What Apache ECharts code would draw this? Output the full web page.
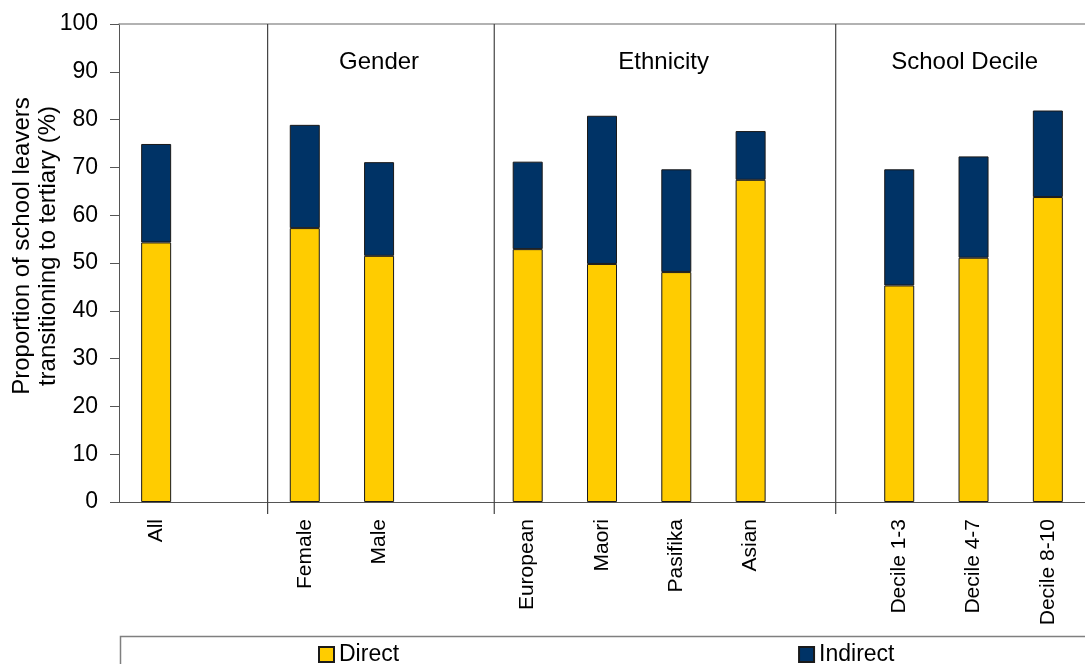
<!DOCTYPE html>
<html>
<head>
<meta charset="utf-8">
<script src="https://cdn.jsdelivr.net/npm/echarts@6/dist/echarts.min.js"></script>
<style>
  html, body { margin: 0; padding: 0; background: #fff; }
  #chart { width: 1085px; height: 664px; }
</style>
</head>
<body>
<div id="chart"></div>
<script>
// Categories, with empty slots separating the groups
const categories = ['All', '', 'Female', 'Male', '', 'European', 'Maori', 'Pasifika', 'Asian', '', 'Decile 1-3', 'Decile 4-7', 'Decile 8-10'];
// Percent of school leavers moving directly into tertiary study
const directValues = [54.3, null, 57.3, 51.5, null, 52.9, 49.8, 48.1, 67.4, null, 45.3, 51.1, 63.8];
// Percent moving into tertiary study after a delay
const indirectValues = [20.6, null, 21.6, 19.6, null, 18.3, 31.0, 21.5, 10.2, null, 24.3, 21.2, 18.1];
// Group headings and the dividers between groups, in slot units along the category axis
const groupNames = ['Gender', 'Ethnicity', 'School Decile'];
const groupCenters = [3.5, 7.33, 11.38];
const dividerPositions = [2.0, 5.05, 9.645];
const yTicks = { min: 0, max: 100, interval: 10 };

const FONT = "'Liberation Sans', Arial, sans-serif";
const chart = echarts.init(document.getElementById('chart'), null, { renderer: 'canvas' });

const option = {
  animation: false,
  textStyle: { fontFamily: FONT },
  grid: { left: 119, top: 24, width: 970, bottom: 162, containLabel: false },
  legend: {
    data: ['Direct', 'Indirect'],
    left: 318,
    top: 643,
    width: 1000,
    orient: 'horizontal',
    padding: 0,
    itemGap: 399,
    itemWidth: 15,
    itemHeight: 15,
    icon: 'rect',
    textStyle: { fontSize: 23, color: '#000', fontFamily: FONT }
  },
  xAxis: [
    {
      type: 'category',
      data: categories,
      position: 'bottom',
      axisLine: { show: true, lineStyle: { color: '#555', width: 1 } },
      axisTick: { show: false },
      axisLabel: { rotate: 90, fontSize: 21, color: '#000', margin: 17, interval: 0, fontFamily: FONT },
      splitLine: { show: false }
    },
    {
      type: 'value',
      min: 0,
      max: categories.length,
      position: 'top',
      axisLine: { show: true, onZero: false, lineStyle: { color: '#999', width: 1.5 } },
      axisTick: { show: false },
      axisLabel: { show: false },
      splitLine: { show: false }
    }
  ],
  yAxis: {
    type: 'value',
    min: yTicks.min,
    max: yTicks.max,
    interval: yTicks.interval,
    axisLine: { show: true, lineStyle: { color: '#555', width: 1 } },
    axisTick: { show: true, length: 9, lineStyle: { color: '#555' } },
    axisLabel: { fontSize: 23, color: '#000', margin: 21, fontFamily: FONT },
    splitLine: { show: false }
  },
  graphic: [
    {
      type: 'text',
      x: 35,
      y: 246,
      rotation: Math.PI / 2,
      style: {
        text: 'Proportion of school leavers\ntransitioning to tertiary (%)',
        font: '24px ' + FONT,
        fill: '#000',
        align: 'center',
        verticalAlign: 'middle',
        lineHeight: 26
      }
    },
    {
      // frame around the legend, running off the bottom-right of the page
      type: 'rect',
      left: 118,
      top: 634,
      silent: true,
      shape: { width: 1000, height: 60 },
      style: { fill: 'none', stroke: '#7f7f7f', lineWidth: 1.5 }
    }
  ],
  series: [
    {
      name: 'Direct',
      type: 'bar',
      stack: 'total',
      data: directValues,
      barWidth: 30,
      itemStyle: { color: '#FFCC00', borderColor: '#1a1a1a', borderWidth: 1 }
    },
    {
      name: 'Indirect',
      type: 'bar',
      stack: 'total',
      data: indirectValues,
      barWidth: 30,
      itemStyle: { color: '#003366', borderColor: '#1a1a1a', borderWidth: 1 }
    },
    {
      // vertical dividers between the groups, reaching a little below the axis
      type: 'custom',
      xAxisIndex: 1,
      yAxisIndex: 0,
      silent: true,
      clip: false,
      data: dividerPositions.map(v => [v]),
      renderItem: function (params, api) {
        const x = api.value(0);
        const top = api.coord([x, yTicks.max]);
        const bottom = api.coord([x, yTicks.min]);
        return {
          type: 'line',
          shape: { x1: top[0], y1: top[1], x2: bottom[0], y2: bottom[1] + 12 },
          style: { stroke: '#444', lineWidth: 1.2 }
        };
      }
    },
    {
      // group headings
      type: 'custom',
      xAxisIndex: 1,
      yAxisIndex: 0,
      silent: true,
      clip: false,
      data: groupCenters.map((c, i) => [c, 92, groupNames[i]]),
      renderItem: function (params, api) {
        const p = api.coord([api.value(0), api.value(1)]);
        return {
          type: 'text',
          x: p[0],
          y: p[1],
          style: {
            text: groupNames[params.dataIndex],
            font: '24px ' + FONT,
            fill: '#000',
            align: 'center',
            verticalAlign: 'middle'
          }
        };
      }
    }
  ]
};

chart.setOption(option);
</script>
</body>
</html>
